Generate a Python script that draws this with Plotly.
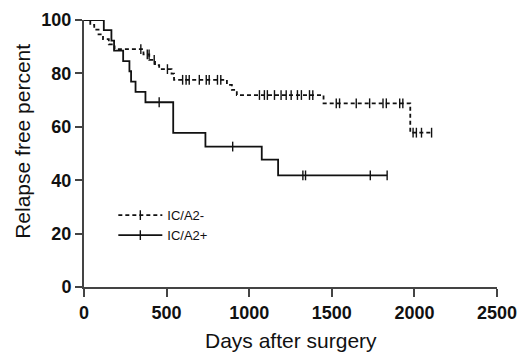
import numpy as np
import plotly.graph_objects as go

# IC/A2- (dashed) step function: event times and survival after each step
neg_times = [0, 38, 62, 88, 115, 150, 185, 360, 395, 430, 455, 530, 545, 865, 895, 925, 1450, 1975]
neg_surv = [100, 98.2, 96.4, 94.6, 92.8, 90.9, 89.1, 87.1, 85.1, 83.1, 81.6, 79.9, 77.6, 75.7, 73.8, 71.9, 68.8, 57.8]
neg_end = 2104
neg_censor = [344, 383, 394, 425, 505, 597, 618, 637, 698, 740, 758, 808, 828,
              1062, 1092, 1110, 1153, 1193, 1224, 1254, 1292, 1316, 1365, 1385,
              1527, 1547, 1648, 1729, 1810, 1830, 1911, 1930, 1992, 2012, 2043, 2104]

# IC/A2+ (solid)
pos_times = [0, 120, 166, 182, 237, 275, 285, 312, 372, 540, 735, 1076, 1175]
pos_surv = [100, 96.2, 92.3, 88.5, 84.6, 80.8, 76.9, 73.1, 69.2, 57.7, 52.6, 47.7, 41.8]
pos_end = 1835
pos_censor = [455, 900, 1325, 1341, 1733, 1835]

x_ticks = [0, 500, 1000, 1500, 2000, 2500]
y_ticks = [0, 20, 40, 60, 80, 100]


def step_xy(times, surv, end):
    return list(times) + [end], list(surv) + [surv[-1]]


def censor_y(times, surv, cens):
    idx = np.searchsorted(np.array(times), np.array(cens), side="right") - 1
    return [surv[i] for i in idx]


LINE = "#111111"
fig = go.Figure()

for name, times, surv, end, cens, dash in [
    ("IC/A2-", neg_times, neg_surv, neg_end, neg_censor, "4px,3px"),
    ("IC/A2+", pos_times, pos_surv, pos_end, pos_censor, "solid"),
]:
    xs, ys = step_xy(times, surv, end)
    fig.add_trace(go.Scatter(x=xs, y=ys, mode="lines", line=dict(shape="hv", color=LINE, width=1.8, dash=dash),
                             showlegend=False, hoverinfo="skip", cliponaxis=False))
    fig.add_trace(go.Scatter(x=cens, y=censor_y(times, surv, cens), mode="markers",
                             marker=dict(symbol="line-ns", size=7, line=dict(color=LINE, width=1.4)),
                             showlegend=False, hoverinfo="skip", cliponaxis=False))
    fig.add_trace(go.Scatter(x=[None], y=[None], mode="lines+markers", name=name,
                             line=dict(color=LINE, width=1.8, dash=dash),
                             marker=dict(symbol="line-ns", size=7, line=dict(color=LINE, width=1.4))))

AX = "#444444"
tickfont = dict(family="Liberation Sans, Arial, sans-serif", size=18, color="#111111")
fig.update_xaxes(range=[0, 2500], tickvals=x_ticks, ticktext=[f"<b>{v}</b>" for v in x_ticks],
                 showline=True, linecolor=AX, linewidth=2, ticks="outside", ticklen=8, tickwidth=2,
                 tickcolor=AX, showgrid=False, zeroline=False, tickfont=tickfont, automargin=False,
                 ticklabeloverflow="allow")
fig.update_yaxes(range=[0, 100], tickvals=y_ticks, ticktext=[f"<b>{v}</b>" for v in y_ticks],
                 showline=True, linecolor=AX, linewidth=2, ticks="outside", ticklen=7, tickwidth=2,
                 tickcolor=AX, showgrid=False, zeroline=False, tickfont=tickfont, automargin=False,
                 ticklabeloverflow="allow")

titlefont = dict(family="Liberation Sans, Arial, sans-serif", size=21, color="#111111")
fig.add_annotation(text="Days after surgery", xref="paper", yref="paper", x=0.5, y=-0.202,
                   xanchor="center", yanchor="middle", showarrow=False, font=titlefont)
fig.add_annotation(text="Relapse free percent", xref="paper", yref="paper", x=-0.148, y=0.547,
                   xanchor="center", yanchor="middle", textangle=-90, showarrow=False, font=titlefont)

fig.update_layout(
    width=522, height=354, autosize=False,
    margin=dict(l=84, r=25, t=20, b=67),
    paper_bgcolor="white", plot_bgcolor="white",
    legend=dict(x=0.071, y=0.325, xanchor="left", yanchor="top", itemwidth=44,
                font=dict(family="Liberation Sans, Arial, sans-serif", size=13, color="#111111"),
                bgcolor="rgba(0,0,0,0)", tracegroupgap=0),
    showlegend=True,
)

fig.write_html("out.html",
               config={"displayModeBar": False, "responsive": False},
               post_script="document.body.style.margin='0';document.body.style.overflow='hidden';")
